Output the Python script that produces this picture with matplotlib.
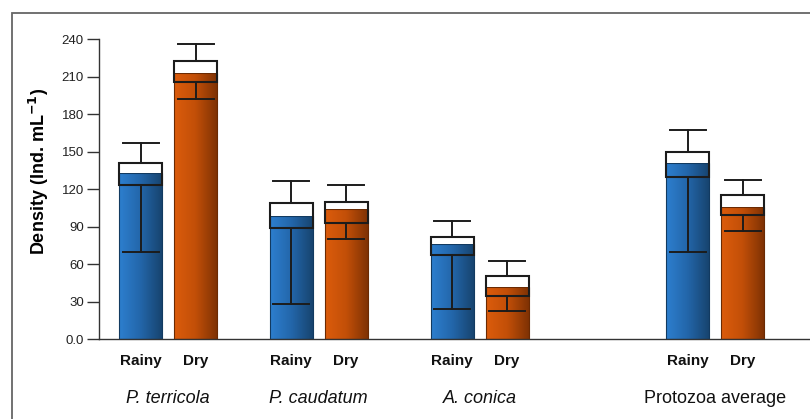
import numpy as np
import matplotlib.pyplot as plt
from matplotlib.patches import Rectangle
from matplotlib.colors import LinearSegmentedColormap

plt.rcParams['font.family'] = ['Liberation Sans', 'DejaVu Sans']

# Density of protozoa per season (Ind. mL-1)
groups = ["P. terricola", "P. caudatum", "A. conica", "Protozoa average"]
seasons = ["Rainy", "Dry"]
mean = [[132.8, 213.3], [98.9, 104.2], [76.5, 41.8], [140.8, 105.6]]
box_lo = [[123.2, 205.6], [88.8, 93.0], [67.4, 34.6], [129.6, 99.4]]
box_hi = [[140.8, 222.4], [108.8, 110.1], [81.6, 50.4], [149.6, 115.2]]
whisk_lo = [[70.1, 192.2], [28.5, 80.0], [24.0, 22.4], [69.6, 86.9]]
whisk_hi = [[156.8, 236.0], [126.9, 123.4], [94.6, 62.6], [167.7, 127.2]]

# layout (x axis units are roughly pixels)
group_x = [69, 219.5, 380.5, 616.3]
offset = 27.5
width = 43
cap = 36

cmaps = [
    LinearSegmentedColormap.from_list("blue", ["#2d7fcf", "#2366aa", "#17446f"]),
    LinearSegmentedColormap.from_list("orange", ["#dc5c0c", "#c24f08", "#7f3204"]),
]

fig = plt.figure(figsize=(8.1, 4.19), dpi=100)
ax = fig.add_axes([99 / 810, 79.7 / 419, 711 / 810, 300 / 419])
ax.set_xlim(0, 711)
ax.set_ylim(0, 240)

grad = np.linspace(0, 1, 256).reshape(1, -1)
ink = "#1c1c1c"

for g in range(len(groups)):
    for s in range(2):
        xc = group_x[g] + (s * 2 - 1) * offset
        x0 = xc - width / 2
        m = mean[g][s]
        # gradient bar
        im = ax.imshow(grad, cmap=cmaps[s], aspect="auto",
                       extent=[x0, x0 + width, 0, m], zorder=2)
        clip = Rectangle((x0, 0), width, m, transform=ax.transData)
        im.set_clip_path(clip)
        ax.add_patch(Rectangle((x0, 0), width, m, fill=False,
                               edgecolor="#123a60" if s == 0 else "#6a2a03",
                               lw=0.8, zorder=3))
        # white part of the box above the mean
        ax.add_patch(Rectangle((x0, m), width, box_hi[g][s] - m,
                               facecolor="white", edgecolor="none", zorder=3))
        # box outline
        ax.add_patch(Rectangle((x0, box_lo[g][s]), width,
                               box_hi[g][s] - box_lo[g][s], fill=False,
                               edgecolor=ink, lw=1.5, zorder=4))
        # whiskers
        ax.plot([xc, xc], [box_hi[g][s], whisk_hi[g][s]], color=ink, lw=1.4, zorder=4)
        ax.plot([xc - cap / 2, xc + cap / 2], [whisk_hi[g][s]] * 2, color=ink, lw=1.4, zorder=4)
        ax.plot([xc, xc], [box_lo[g][s], whisk_lo[g][s]], color=ink, lw=1.4, zorder=4)
        ax.plot([xc - cap / 2, xc + cap / 2], [whisk_lo[g][s]] * 2, color=ink, lw=1.4, zorder=4)
        ax.text(xc, -17.4, seasons[s], ha="center", va="center",
                fontsize=11, fontweight="bold", color="#111111")
    ax.text(group_x[g], -47.5, groups[g], ha="center", va="center", fontsize=13,
            style="normal" if g == 3 else "italic", color="#111111")

ax.spines["top"].set_visible(False)
ax.spines["right"].set_visible(False)
ax.spines["left"].set_color("#333333")
ax.spines["bottom"].set_color("#333333")
ax.spines["left"].set_linewidth(1.0)
ax.spines["bottom"].set_linewidth(1.0)
ax.set_xticks([])
yt = [0, 30, 60, 90, 120, 150, 180, 210, 240]
ax.set_yticks(yt)
ax.set_yticklabels(["0.0"] + [str(v) for v in yt[1:]])
ax.tick_params(axis="y", direction="out", length=9, width=1.0,
               color="#333333", labelsize=9.5, labelcolor="#222222", pad=2)
ax.set_ylabel("Density (Ind. mL$^{\\mathbf{-1}}$)", fontsize=13,
              fontweight="bold")
ax.yaxis.set_label_coords(-0.068, 0.558)

# outer frame
fig.patches.append(Rectangle((12 / 810, -0.1), 1.2, (419 - 13.3) / 419 + 0.1,
                             transform=fig.transFigure, fill=False,
                             edgecolor="#666666", lw=1.3))

fig.savefig("out.png", dpi=100)
